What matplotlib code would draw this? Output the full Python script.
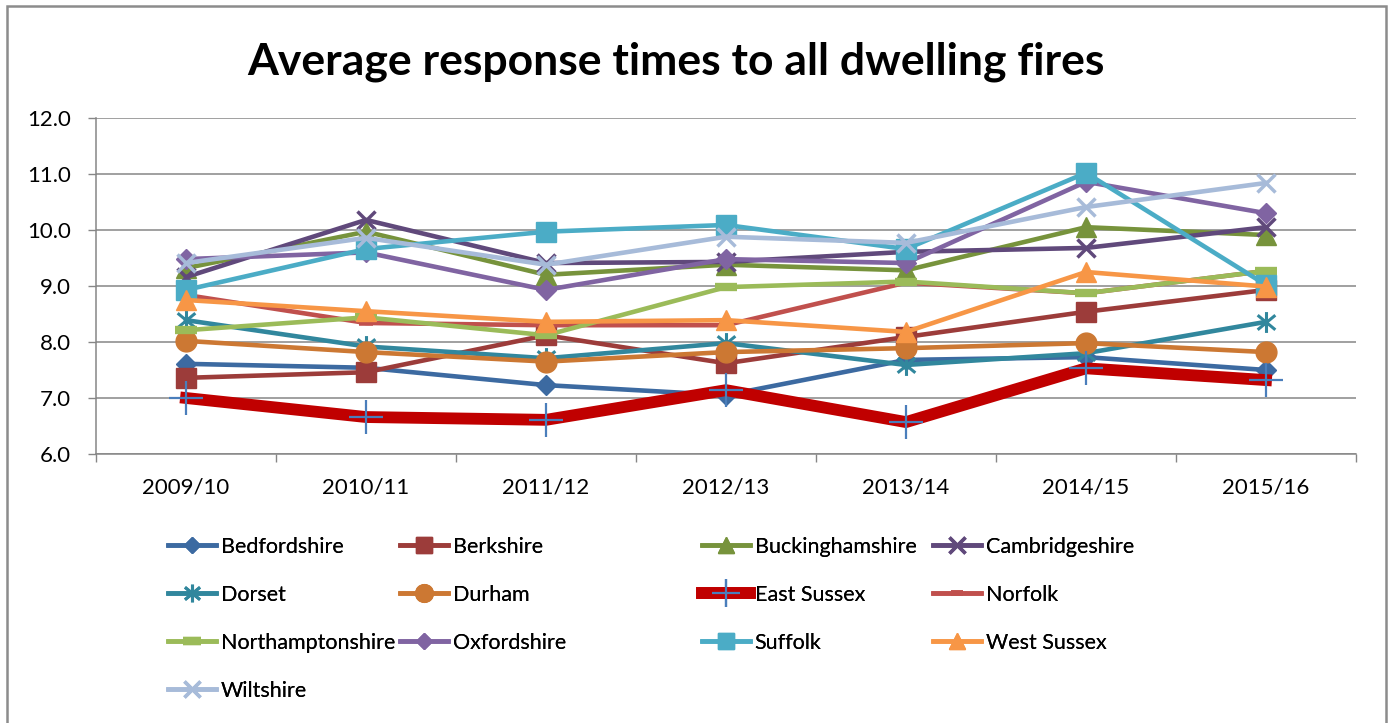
import numpy as np
import matplotlib
matplotlib.use('Agg')
import matplotlib.pyplot as plt
from matplotlib.path import Path
from matplotlib.patches import Rectangle

plt.rcParams['font.family'] = ['Lato', 'DejaVu Sans']

years = ['2009/10', '2010/11', '2011/12', '2012/13', '2013/14', '2014/15', '2015/16']

bedfordshire = [7.61, 7.54, 7.23, 7.05, 7.68, 7.73, 7.50]
berkshire = [7.36, 7.46, 8.12, 7.62, 8.09, 8.54, 8.93]
buckinghamshire = [9.32, 9.97, 9.20, 9.38, 9.28, 10.05, 9.91]
cambridgeshire = [9.16, 10.18, 9.41, 9.43, 9.61, 9.68, 10.05]
dorset = [8.39, 7.92, 7.71, 7.98, 7.59, 7.80, 8.36]
durham = [8.02, 7.82, 7.65, 7.82, 7.89, 7.98, 7.82]
east_sussex = [7.00, 6.66, 6.61, 7.14, 6.57, 7.53, 7.32]
norfolk = [8.84, 8.34, 8.30, 8.30, 9.06, 8.87, 9.27]
northamptonshire = [8.21, 8.44, 8.12, 8.98, 9.08, 8.87, 9.27]
oxfordshire = [9.48, 9.60, 8.93, 9.48, 9.41, 10.86, 10.30]
suffolk = [8.93, 9.66, 9.97, 10.09, 9.66, 11.02, 9.02]
west_sussex = [8.75, 8.55, 8.36, 8.39, 8.18, 9.25, 8.99]
wiltshire = [9.41, 9.86, 9.38, 9.88, 9.77, 10.41, 10.84]

# asterisk marker: vertical stroke plus a cross
star = Path([(0, -1), (0, 1), (-0.85, -0.7), (0.85, 0.7), (-0.85, 0.7), (0.85, -0.7)],
            [Path.MOVETO, Path.LINETO] * 3)

series = [
    ('Bedfordshire', bedfordshire, dict(color='#3c6aa1', marker='D', ms=10, lw=3.3)),
    ('Berkshire', berkshire, dict(color='#9c3c3a', marker='s', ms=14, lw=3.3)),
    ('Buckinghamshire', buckinghamshire, dict(color='#77933c', marker='^', ms=14, lw=3.3)),
    ('Cambridgeshire', cambridgeshire, dict(color='#60497b', marker='x', ms=13, mew=2.5, lw=3.3)),
    ('Dorset', dorset, dict(color='#31879d', marker=star, ms=15, mew=2.2, mfc='none', lw=3.3)),
    ('Durham', durham, dict(color='#cc7833', marker='o', ms=15, lw=3.3)),
    ('East Sussex', east_sussex, dict(color='#c00000', marker='+', ms=24, mew=1.6, mec='#4a7ebb', lw=8.5)),
    ('Norfolk', norfolk, dict(color='#c0504d', marker='_', ms=10, mew=4, lw=3.3)),
    ('Northamptonshire', northamptonshire, dict(color='#9bbb59', marker='_', ms=16, mew=6, lw=3.3)),
    ('Oxfordshire', oxfordshire, dict(color='#8064a2', marker='D', ms=10, lw=3.3)),
    ('Suffolk', suffolk, dict(color='#4bacc6', marker='s', ms=14, lw=3.3)),
    ('West Sussex', west_sussex, dict(color='#f79646', marker='^', ms=14, lw=3.3)),
    ('Wiltshire', wiltshire, dict(color='#a7bbd9', marker='x', ms=13, mew=2.5, lw=3.3)),
]

fig = plt.figure(figsize=(13.93, 7.23), dpi=100)
ax = fig.add_axes([96 / 1393, 1 - 454 / 723, (1356 - 96) / 1393, (454 - 118) / 723])

x = np.arange(len(years))
handles = {}
for name, vals, kw in series:
    line, = ax.plot(x, vals, label=name, solid_joinstyle='round', **kw)
    handles[name] = line

ax.set_ylim(6, 12)
ax.set_xlim(-0.5, len(years) - 0.5)
ax.set_yticks(np.arange(6, 12.5, 1))
ax.set_yticklabels(['%.1f' % v for v in np.arange(6, 12.5, 1)])
ax.set_xticks(np.arange(-0.5, len(years), 1))
ax.set_xticklabels([])
ax.set_xticks(x, minor=True)
ax.set_xticklabels(years, minor=True)
ax.tick_params(axis='x', which='major', direction='out', length=6, width=1, color='#868686')
ax.tick_params(axis='x', which='minor', length=0, pad=17, labelsize=16)
ax.tick_params(axis='y', direction='out', length=6, width=1, color='#868686', pad=12, labelsize=16)
ax.grid(axis='y', color='#868686', lw=1.1)
ax.set_axisbelow(True)
for s in ['top', 'right']:
    ax.spines[s].set_visible(False)
for s in ['left', 'bottom']:
    ax.spines[s].set_color('#868686')
    ax.spines[s].set_linewidth(1.1)

fig.text(676 / 1393, 1 - 62 / 723, 'Average response times to all dwelling fires',
         ha='center', va='center', fontsize=32, fontweight='bold')

# legend laid out row by row, one legend per column
columns = [
    ['Bedfordshire', 'Dorset', 'Northamptonshire', 'Wiltshire'],
    ['Berkshire', 'Durham', 'Oxfordshire'],
    ['Buckinghamshire', 'East Sussex', 'Suffolk'],
    ['Cambridgeshire', 'Norfolk', 'West Sussex'],
]
col_x = [168, 400, 702, 933]
for cx, names in zip(col_x, columns):
    leg = fig.legend([handles[n] for n in names], names, loc='upper left',
                     bbox_to_anchor=(cx / 1393, 1 - 537 / 723), frameon=False,
                     fontsize=15.5, handlelength=2.25, handletextpad=0.2,
                     labelspacing=1.3, borderpad=0, borderaxespad=0, markerscale=0.85)
    fig.add_artist(leg)

fig.add_artist(Rectangle((7 / 1393, -0.02), (1386 - 7) / 1393, 1.02 - 6 / 723,
                         transform=fig.transFigure, fill=False, ec='#8c8c8c', lw=1.8))

fig.savefig('out.png', dpi=100)
